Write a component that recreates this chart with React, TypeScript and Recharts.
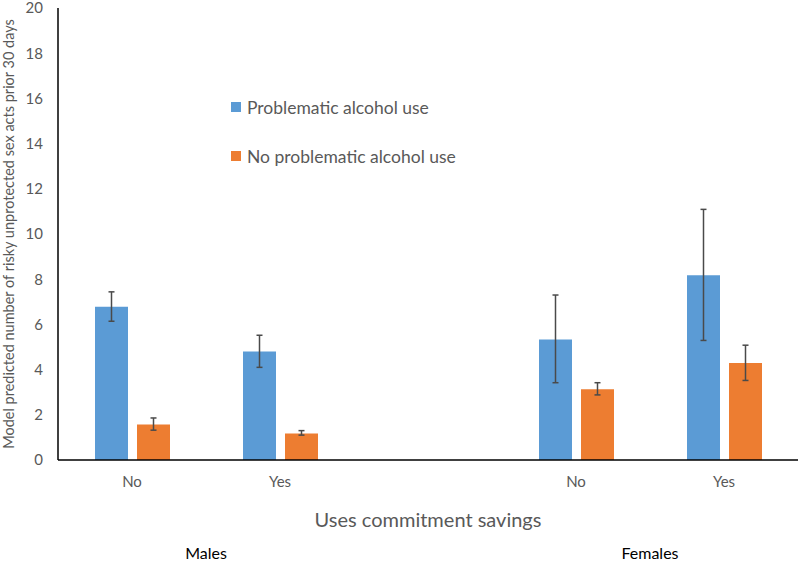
import React from 'react';
import { BarChart, Bar, XAxis, YAxis, ErrorBar, Legend } from 'recharts';

const categories = ['No', 'Yes', '', 'No', 'Yes'];
const categoryGroups = ['Males', 'Males', '', 'Females', 'Females'];
const problematic = [6.78, 4.8, null, 5.33, 8.18];
const problematicLow = [6.14, 4.1, null, 3.42, 5.29];
const problematicHigh = [7.44, 5.52, null, 7.3, 11.09];
const noProblematic = [1.57, 1.17, null, 3.13, 4.29];
const noProblematicLow = [1.32, 1.1, null, 2.88, 3.52];
const noProblematicHigh = [1.86, 1.3, null, 3.42, 5.08];
const seriesNames = ['Problematic alcohol use', 'No problematic alcohol use'];
const yTicks = [0, 2, 4, 6, 8, 10, 12, 14, 16, 18, 20];

const BLUE = '#5B9BD5';
const ORANGE = '#ED7D31';
const GREY = '#595959';
const FONT = 'Lato, "Open Sans", sans-serif';
const seriesColors = [BLUE, ORANGE];

const data = categories.map((label, i) => {
  const p = problematic[i];
  const n = noProblematic[i];
  return {
    label,
    group: categoryGroups[i],
    problematic: p,
    noProblematic: n,
    pErr: p == null ? null : [p - (problematicLow[i] as number), (problematicHigh[i] as number) - p],
    nErr: n == null ? null : [n - (noProblematicLow[i] as number), (noProblematicHigh[i] as number) - n],
  };
});

// legend rows drawn in the original order (recharts sorts payload by name)
const renderLegend = () => (
  <div style={{ fontFamily: FONT }}>
    {seriesNames.map((name, i) => (
      <div
        key={name}
        style={{ display: 'flex', alignItems: 'center', height: 20, marginBottom: i === 0 ? 29 : 0 }}
      >
        <span style={{ width: 10, height: 10, background: seriesColors[i], marginRight: 6, display: 'inline-block' }} />
        <span style={{ fontSize: 17.5, color: GREY }}>{name}</span>
      </div>
    ))}
  </div>
);

// group name centred between the two categories of each group
const GroupTick = (props: any) => {
  const { x, y, index, payload } = props;
  const name = categoryGroups[index];
  if (!name || categoryGroups[index - 1] === name) return null;
  const half = payload && payload.offset ? payload.offset : 0;
  return (
    <text x={x + half} y={y} dy="0.71em" textAnchor="middle" fill="#000" fontSize={16} fontFamily={FONT}>
      {name}
    </text>
  );
};

export default function App() {
  return (
    <div style={{ position: 'absolute', left: 0, top: 0, background: '#fff' }}>
      <BarChart
        width={800}
        height={562}
        data={data}
        margin={{ top: 8, right: 2, bottom: 0, left: 0 }}
        barSize={33}
        barGap={9}
      >
        <XAxis
          dataKey="label"
          height={70}
          axisLine={{ stroke: '#000', strokeWidth: 1.5 }}
          tickLine={false}
          tickSize={6}
          tickMargin={10}
          tick={{ fill: GREY, fontSize: 15, fontFamily: FONT }}
          interval={0}
          label={{
            value: 'Uses commitment savings',
            position: 'insideBottom',
            offset: 3,
            fill: GREY,
            fontSize: 20,
            fontFamily: FONT,
          }}
        />
        <XAxis
          xAxisId="group"
          dataKey="label"
          height={32}
          interval={0}
          axisLine={false}
          tickLine={false}
          tickSize={6}
          tickMargin={12}
          tick={<GroupTick />}
        />
        <YAxis
          width={58}
          domain={[0, 20]}
          ticks={yTicks}
          interval={0}
          axisLine={{ stroke: '#000', strokeWidth: 1.5 }}
          tickLine={false}
          tickSize={6}
          tickMargin={9}
          tick={{ fill: GREY, fontSize: 15, fontFamily: FONT }}
          label={{
            value: 'Model predicted number of risky unprotected sex acts prior 30 days',
            angle: -90,
            position: 'insideLeft',
            offset: 9,
            style: { textAnchor: 'middle' },
            fill: GREY,
            fontSize: 14.5,
            fontFamily: FONT,
          }}
        />
        <Legend
          layout="vertical"
          verticalAlign="middle"
          align="center"
          content={renderLegend}
          wrapperStyle={{ left: 231, top: 97, width: 300 }}
        />
        <Bar dataKey="problematic" name={seriesNames[0]} fill={BLUE} isAnimationActive={false}>
          <ErrorBar dataKey="pErr" width={3} stroke="#4a4a4a" strokeWidth={1.5} />
        </Bar>
        <Bar dataKey="noProblematic" name={seriesNames[1]} fill={ORANGE} isAnimationActive={false}>
          <ErrorBar dataKey="nErr" width={3} stroke="#4a4a4a" strokeWidth={1.5} />
        </Bar>
      </BarChart>
    </div>
  );
}
